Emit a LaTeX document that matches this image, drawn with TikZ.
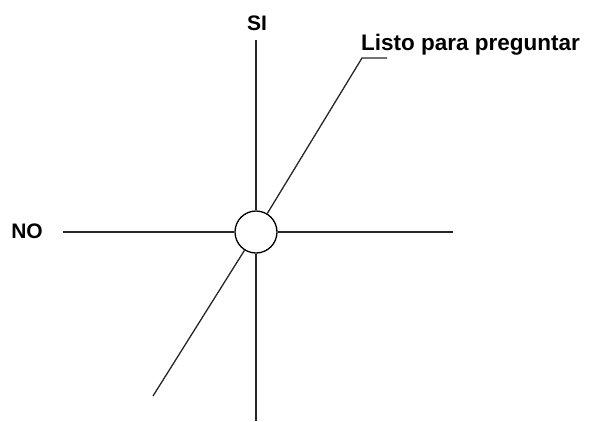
\documentclass[tikz,border=0pt]{standalone}
\usepackage{fontspec}
\setmainfont{Liberation Sans}
\begin{document}
\begin{tikzpicture}[x=1pt,y=-1pt,
  ln/.style={line width=1.3pt,black!85},
  lbl/.style={font=\fontsize{21}{24}\selectfont\bfseries,inner sep=0pt}]
\useasboundingbox (0,0) rectangle (599,421);
\node[circle,draw,line width=1.3pt,fill=white,minimum size=42pt,inner sep=0pt] (c) at (256,232) {};
\coordinate (top) at (256,40);
\coordinate (bot) at (256,421);
\coordinate (left) at (63,232);
\coordinate (right) at (453,232);
\coordinate (dlow) at (153,396);
\coordinate (dup) at (362,58);
\coordinate (dend) at (387,58);
\node[lbl] (si) at (257,23) {SI};
\node[lbl] (no) at (27,231) {NO};
\node[lbl,anchor=base west,font=\fontsize{22.5}{26}\selectfont\bfseries] (listo) at (361,50) {Listo para preguntar};
\draw[ln] (c) -- (top);
\draw[ln] (c) -- (bot);
\draw[ln] (c) -- (left);
\draw[ln] (c) -- (right);
\draw[ln] (c) -- (dlow);
\draw[ln] (c) -- (dup) -- (dend);
\end{tikzpicture}
\end{document}
